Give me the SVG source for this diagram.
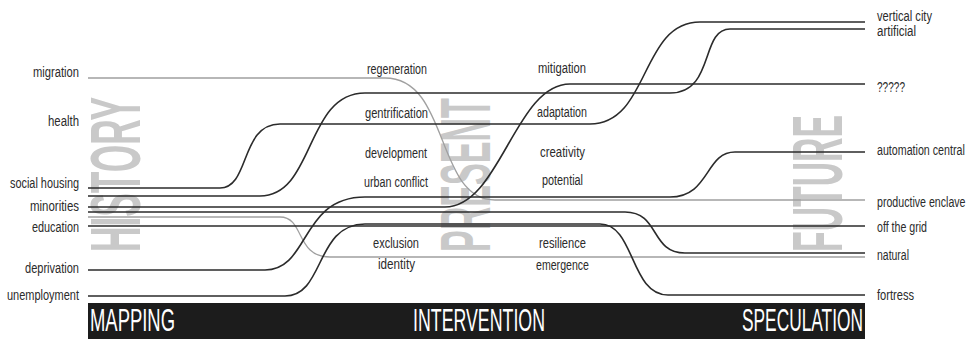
<svg xmlns="http://www.w3.org/2000/svg" width="977" height="339" viewBox="0 0 977 339">
<style>
.big{font-family:"Liberation Sans",Arial,sans-serif;font-size:70px;font-weight:bold;fill:#c9c9c9}
.lbl{font-family:"Liberation Sans",Arial,sans-serif;font-size:14px;fill:#2b2b2b}
.end{text-anchor:end}
.bar{font-family:"Liberation Sans",Arial,sans-serif;font-size:31px;fill:#fff}
.ln{fill:none;stroke:#2b2b2b;stroke-width:1.6}
.lg{fill:none;stroke:#a0a0a0;stroke-width:1.3}
</style>
<rect width="977" height="339" fill="#fff"/>
<g id="phases">
<text class="big" transform="translate(140,252) rotate(-90) scale(0.5,1)" textLength="310" lengthAdjust="spacingAndGlyphs">HISTORY</text>
<text class="big" transform="translate(490,252) rotate(-90) scale(0.5,1)" textLength="308" lengthAdjust="spacingAndGlyphs">PRESENT</text>
<text class="big" transform="translate(842,252) rotate(-90) scale(0.5,1)" textLength="274" lengthAdjust="spacingAndGlyphs">FUTURE</text>
</g>
<g id="connectors">
<path class="lg" d="M88,78 H385 C450,78 435,200 495,200 H865"/>
<path class="lg" d="M88,217 H280 C305,217 295,257 330,257 H865"/>
<path class="ln" d="M88,188 H220 C250,188 240,124 280,124 H590 C650,124 640,22 700,22 H865"/>
<path class="ln" d="M88,196 H260 C315,196 305,93 365,93 H670 C715,93 700,29 730,29 H865"/>
<path class="ln" d="M88,207 H445 C500,207 515,84 570,84 H865"/>
<path class="ln" d="M88,212 H625 C660,212 650,253 685,253 H865"/>
<path class="ln" d="M88,226 H865"/>
<path class="ln" d="M88,270 H265 C310,270 300,197 365,197 H670 C710,197 705,152 735,152 H865"/>
<path class="ln" d="M88,296 H285 C325,296 315,224 365,224 H600 C635,224 630,295 668,295 H865"/>
</g>
<g id="left-labels">
<text id="n-migration" class="lbl end" x="79" y="77" textLength="46" lengthAdjust="spacingAndGlyphs">migration</text>
<text id="n-health" class="lbl end" x="79" y="126" textLength="31" lengthAdjust="spacingAndGlyphs">health</text>
<text id="n-social-housing" class="lbl end" x="79" y="188" textLength="69" lengthAdjust="spacingAndGlyphs">social housing</text>
<text id="n-minorities" class="lbl end" x="79" y="211" textLength="49" lengthAdjust="spacingAndGlyphs">minorities</text>
<text id="n-education" class="lbl end" x="79" y="232" textLength="47" lengthAdjust="spacingAndGlyphs">education</text>
<text id="n-deprivation" class="lbl end" x="79" y="273" textLength="54" lengthAdjust="spacingAndGlyphs">deprivation</text>
<text id="n-unemployment" class="lbl end" x="79" y="300" textLength="72" lengthAdjust="spacingAndGlyphs">unemployment</text>
</g>
<g id="middle-labels">
<text id="n-regeneration" class="lbl" x="367" y="74" textLength="60" lengthAdjust="spacingAndGlyphs">regeneration</text>
<text id="n-gentrification" class="lbl" x="365" y="118" textLength="63" lengthAdjust="spacingAndGlyphs">gentrification</text>
<text id="n-development" class="lbl" x="365" y="158" textLength="62" lengthAdjust="spacingAndGlyphs">development</text>
<text id="n-urban-conflict" class="lbl" x="364" y="187" textLength="64" lengthAdjust="spacingAndGlyphs">urban conflict</text>
<text id="n-exclusion" class="lbl" x="373" y="248" textLength="46" lengthAdjust="spacingAndGlyphs">exclusion</text>
<text id="n-identity" class="lbl" x="378" y="269" textLength="37" lengthAdjust="spacingAndGlyphs">identity</text>
<text id="n-mitigation" class="lbl" x="538" y="73" textLength="48" lengthAdjust="spacingAndGlyphs">mitigation</text>
<text id="n-adaptation" class="lbl" x="537" y="117" textLength="50" lengthAdjust="spacingAndGlyphs">adaptation</text>
<text id="n-creativity" class="lbl" x="540" y="157" textLength="45" lengthAdjust="spacingAndGlyphs">creativity</text>
<text id="n-potential" class="lbl" x="542" y="185" textLength="41" lengthAdjust="spacingAndGlyphs">potential</text>
<text id="n-resilience" class="lbl" x="539" y="248" textLength="47" lengthAdjust="spacingAndGlyphs">resilience</text>
<text id="n-emergence" class="lbl" x="536" y="270" textLength="53" lengthAdjust="spacingAndGlyphs">emergence</text>
</g>
<g id="right-labels">
<text id="n-vertical-city" class="lbl" x="877" y="21" textLength="55" lengthAdjust="spacingAndGlyphs">vertical city</text>
<text id="n-artificial" class="lbl" x="877" y="36" textLength="39" lengthAdjust="spacingAndGlyphs">artificial</text>
<text id="n-questions" class="lbl" x="877" y="92" textLength="28" lengthAdjust="spacingAndGlyphs">?????</text>
<text id="n-automation-central" class="lbl" transform="translate(877,155) scale(0.75,1)" textLength="117" lengthAdjust="spacingAndGlyphs">automation central</text>
<text id="n-productive-enclave" class="lbl" transform="translate(877,207) scale(0.75,1)" textLength="118" lengthAdjust="spacingAndGlyphs">productive enclave</text>
<text id="n-off-the-grid" class="lbl" x="877" y="232" textLength="50" lengthAdjust="spacingAndGlyphs">off the grid</text>
<text id="n-natural" class="lbl" x="877" y="260" textLength="32" lengthAdjust="spacingAndGlyphs">natural</text>
<text id="n-fortress" class="lbl" x="877" y="300" textLength="37" lengthAdjust="spacingAndGlyphs">fortress</text>
</g>
<g id="timeline-bar">
<rect x="88" y="303" width="777" height="36" fill="#1c1c1c"/>
<text class="bar" x="90" y="331" textLength="85" lengthAdjust="spacingAndGlyphs">MAPPING</text>
<text class="bar" x="413" y="331" textLength="132" lengthAdjust="spacingAndGlyphs">INTERVENTION</text>
<text class="bar" x="742" y="331" textLength="121" lengthAdjust="spacingAndGlyphs">SPECULATION</text>
</g>
</svg>
